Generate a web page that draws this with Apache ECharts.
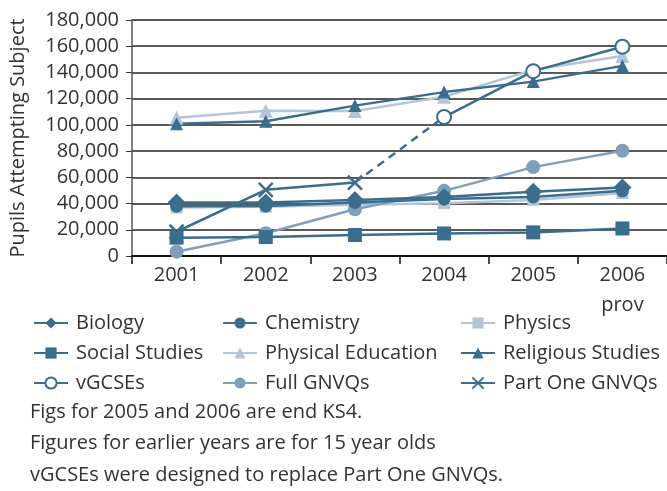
<!DOCTYPE html>
<html>
<head>
<meta charset="utf-8">
<script src="https://cdn.jsdelivr.net/npm/echarts@6/dist/echarts.min.js"></script>
<style>
  html, body { margin: 0; padding: 0; background: #fff; }
  #chart { width: 667px; height: 491px; }
</style>
</head>
<body>
<div id="chart"></div>
<script>
const years = ['2001', '2002', '2003', '2004', '2005', '2006\nprov']

const biology = [40800, 40800, 42800, 45000, 49000, 52300]
const chemistry = [38000, 38200, 40800, 43500, 45000, 49700]
const physics = [37000, 37500, 39000, 40300, 42800, 48000]
const socialStudies = [14000, 14500, 16000, 17200, 18000, 21000]
const physicalEducation = [105500, 110800, 110500, 121500, 142000, 152500]
const religiousStudies = [100800, 102800, 114700, 125000, 133000, 145000]
const vGCSEs = [null, null, null, 106000, 141000, 159600]
const fullGNVQs = [3300, 17400, 35700, 49700, 67800, 80300]
const partOneGNVQs = [18500, 50500, 56000, null, null, null]

const footnotes = [
  'Figs for 2005 and 2006 are end KS4.',
  'Figures for earlier years are for 15 year olds',
  'vGCSEs were designed to replace Part One GNVQs.'
]

const dark = '#3a6d8e'
const light = '#b3c6d9'
const mid = '#7f9fbb'
const font = 'Open Sans'

// dashed link from the last Part One GNVQ point to the first vGCSE point
const handover = years.map((y, i) =>
  i === 2 ? partOneGNVQs[2] : i === 3 ? vGCSEs[3] : null)

const crossPath = 'path://M0,0L10,10M10,0L0,10'

const line = (name, data, color, symbol, size, extra = {}) => ({
  name,
  type: 'line',
  data,
  symbol,
  symbolSize: size,
  lineStyle: { color, width: 2.5 },
  itemStyle: { color },
  emphasis: { disabled: true },
  ...extra
})

const chart = echarts.init(document.getElementById('chart'))

const legendBase = {
  orient: 'vertical',
  top: 308,
  itemWidth: 34,
  itemHeight: 14,
  itemGap: 10,
  textStyle: { fontFamily: font, fontSize: 20, color: '#333', padding: [0, 0, 0, 3] }
}

chart.setOption({
  animation: false,
  textStyle: { fontFamily: font },
  grid: { left: 122, right: 0, top: 20, bottom: 235 },
  xAxis: {
    type: 'category',
    data: years,
    boundaryGap: true,
    axisLine: { lineStyle: { color: '#111', width: 2 } },
    axisTick: { show: true, length: 8, lineStyle: { color: '#111', width: 1.5 } },
    axisLabel: { fontSize: 20, color: '#333', margin: 4, lineHeight: 30, fontFamily: font }
  },
  yAxis: {
    type: 'value',
    min: 0,
    max: 180000,
    interval: 20000,
    name: 'Pupils Attempting Subject',
    nameLocation: 'middle',
    nameGap: 104,
    nameTextStyle: { fontSize: 20, color: '#333', fontFamily: font },
    axisLine: { show: true, lineStyle: { color: '#555', width: 1.5 } },
    axisTick: { show: true, length: 6, lineStyle: { color: '#333' } },
    axisLabel: {
      fontSize: 20,
      color: '#333',
      margin: 13,
      fontFamily: font,
      formatter: v => v.toLocaleString('en-US')
    },
    splitLine: { lineStyle: { color: '#222', width: 1.5 } }
  },
  legend: [
    { ...legendBase, left: 28, data: ['Biology', 'Social Studies', 'vGCSEs'] },
    { ...legendBase, left: 217, data: ['Chemistry', 'Physical Education', 'Full GNVQs'] },
    { ...legendBase, left: 455, data: ['Physics', 'Religious Studies', 'Part One GNVQs'] }
  ],
  graphic: footnotes.map((t, i) => ({
    type: 'text',
    left: 30,
    top: 402 + i * 31.5,
    style: { text: t, fontSize: 20, fill: '#333', fontFamily: font }
  })),
  series: [
    line('Physics', physics, light, 'rect', 12),
    line('Physical Education', physicalEducation, light, 'triangle', 14),
    line('Full GNVQs', fullGNVQs, mid, 'circle', 14),
    line('Social Studies', socialStudies, dark, 'rect', 14),
    line('Chemistry', chemistry, dark, 'circle', 13),
    line('Biology', biology, dark, 'diamond', 18),
    line('Religious Studies', religiousStudies, dark, 'triangle', 13),
    {
      name: 'handover',
      type: 'line',
      data: handover,
      symbol: 'none',
      lineStyle: { color: dark, width: 2.5, type: [8, 6] },
      emphasis: { disabled: true }
    },
    line('Part One GNVQs', partOneGNVQs, dark, crossPath, 14, {
      itemStyle: { color: dark, borderColor: dark, borderWidth: 2.5 }
    }),
    line('vGCSEs', vGCSEs, dark, 'emptyCircle', 14, {
      itemStyle: { color: dark, borderColor: dark, borderWidth: 2.5 }
    })
  ]
})
</script>
</body>
</html>
